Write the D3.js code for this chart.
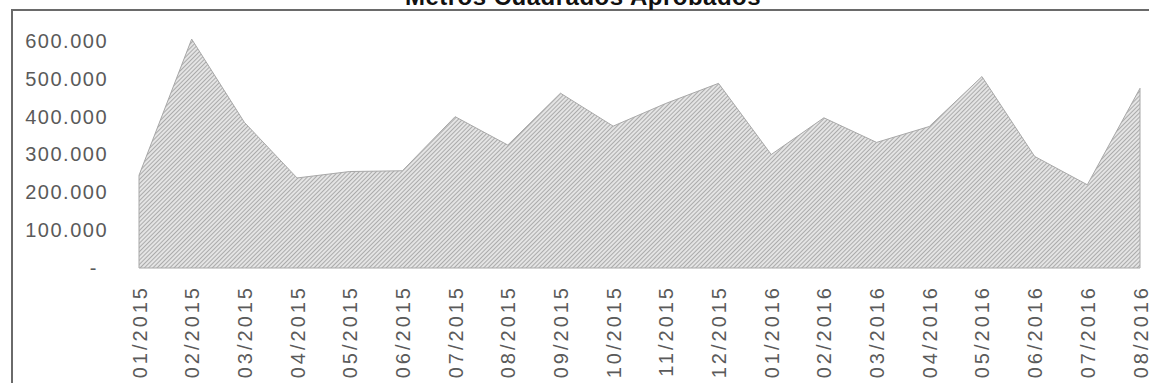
<!DOCTYPE html>
<html>
<head>
<meta charset="utf-8">
<script src="https://cdn.jsdelivr.net/npm/d3@7"></script>
<style>
  body { margin: 0; background: #fff; }
  .tickText { font-family: "Liberation Sans", Arial, sans-serif; font-size: 20px; fill: #5a5a5a; letter-spacing: 1.5px; }
  .xText { letter-spacing: 3px; }
  .title { font-family: "Liberation Sans", Arial, sans-serif; font-size: 24px; font-weight: bold; fill: #111; letter-spacing: 0.5px; }
</style>
</head>
<body>
<div id="chart"></div>
<script>
// chart data
var months = ["01/2015", "02/2015", "03/2015", "04/2015", "05/2015", "06/2015", "07/2015", "08/2015",
              "09/2015", "10/2015", "11/2015", "12/2015", "01/2016", "02/2016", "03/2016", "04/2016",
              "05/2016", "06/2016", "07/2016", "08/2016"];
var metros = [245000, 605000, 385000, 238000, 255000, 257000, 400000, 325000,
              462000, 375000, 435000, 488000, 300000, 397000, 332000, 374000,
              506000, 295000, 220000, 475000];
var yTicks = [0, 100000, 200000, 300000, 400000, 500000, 600000];
var chartTitle = "Metros Cuadrados Aprobados";

var svgWidth = 1149;
var svgHeight = 383;

var svg = d3.select("#chart")
    .append("svg")
    .attr("width", svgWidth)
    .attr("height", svgHeight);

// hatch pattern for the area
var defs = svg.append("defs");
var pattern = defs.append("pattern")
    .attr("id", "hatch")
    .attr("patternUnits", "userSpaceOnUse")
    .attr("width", 3)
    .attr("height", 3)
    .attr("patternTransform", "rotate(45)");
pattern.append("rect")
    .attr("width", 3)
    .attr("height", 3)
    .attr("fill", "#e4e4e4");
pattern.append("line")
    .attr("x1", 0).attr("y1", 0)
    .attr("x2", 0).attr("y2", 3)
    .attr("stroke", "#8c8c8c")
    .attr("stroke-width", 1.3);

// scales
var xScale = d3.scalePoint()
    .domain(months)
    .range([139, 1140]);

var yScale = d3.scaleLinear()
    .domain([0, 600000])
    .range([268, 41]);

// frame
svg.append("line")
    .attr("x1", 11).attr("y1", 10)
    .attr("x2", svgWidth).attr("y2", 10)
    .attr("stroke", "#6a6a6a")
    .attr("stroke-width", 2);
svg.append("line")
    .attr("x1", 12).attr("y1", 10)
    .attr("x2", 12).attr("y2", svgHeight)
    .attr("stroke", "#6a6a6a")
    .attr("stroke-width", 2);

// title (cut off at the top, like the scan)
svg.append("text")
    .attr("class", "title")
    .attr("x", 583)
    .attr("y", 5)
    .attr("text-anchor", "middle")
    .text(chartTitle);

// area
var area = d3.area()
    .x(function(d, i) { return xScale(months[i]); })
    .y0(yScale(0))
    .y1(function(d) { return yScale(d); });

svg.append("path")
    .datum(metros)
    .attr("d", area)
    .attr("fill", "url(#hatch)")
    .attr("stroke", "#a8a8a8")
    .attr("stroke-width", 1);

// y axis
var leftAxis = d3.axisLeft(yScale)
    .tickValues(yTicks)
    .tickSize(0)
    .tickPadding(0)
    .tickFormat(function(d) {
        return d === 0 ? "-" : d3.format(",")(d).replace(/,/g, ".");
    });

var yAxisG = svg.append("g")
    .attr("transform", "translate(108, 0)")
    .call(leftAxis);
yAxisG.select(".domain").remove();
yAxisG.selectAll("text")
    .attr("class", "tickText")
    .attr("font-size", null)
    .attr("font-family", null)
    .attr("x", function(d) { return d === 0 ? -10 : 0; });

// x axis
var bottomAxis = d3.axisBottom(xScale)
    .tickSize(0)
    .tickPadding(0);

var xAxisG = svg.append("g")
    .attr("transform", "translate(0, 285)")
    .call(bottomAxis);
xAxisG.select(".domain").remove();
xAxisG.selectAll("text")
    .attr("class", "tickText xText")
    .attr("font-size", null)
    .attr("font-family", null)
    .attr("transform", "rotate(-90)")
    .attr("text-anchor", "end")
    .attr("x", 0)
    .attr("y", 0)
    .attr("dy", "0.35em");
</script>
</body>
</html>
